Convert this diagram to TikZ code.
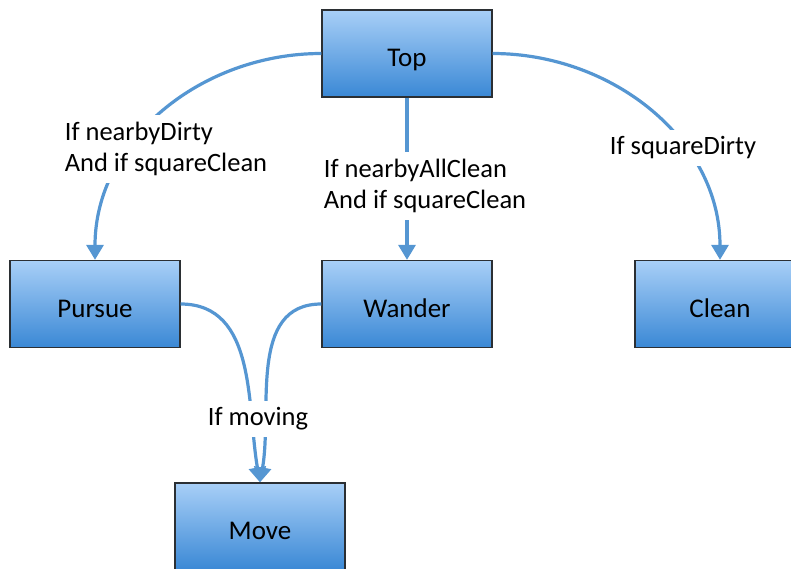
\documentclass[tikz,border=0pt]{standalone}
\usepackage{fontspec}
\setmainfont{Carlito}
\usetikzlibrary{arrows.meta}
\definecolor{linkblue}{HTML}{5596D2}
\definecolor{boxtop}{HTML}{A8CFF7}
\definecolor{boxbot}{HTML}{3A88D5}
\definecolor{boxedge}{HTML}{2B2F33}
\begin{document}
\begin{tikzpicture}[x=1pt,y=-1pt,
  state/.style={draw=boxedge, line width=1.3pt, top color=boxtop, bottom color=boxbot,
    minimum width=170pt, minimum height=87pt, inner sep=0pt,
    text height=26pt, text depth=0pt,
    font=\fontsize{27}{32}\selectfont},
  link/.style={draw=linkblue, line width=3.2pt,
    -{Triangle[length=15pt,width=17pt]}},
  cond/.style={fill=white, align=left, inner sep=7pt,
    font=\fontsize{26.5}{31}\selectfont}
]
\useasboundingbox (0,0) rectangle (791,569);
\clip (0,0) rectangle (791,569);

% states
\node[state] (top)    at (407,53.5) {Top};
\node[state] (pursue) at (95,304)   {Pursue};
\node[state] (wander) at (407,304)  {Wander};
\node[state] (clean)  at (720,304)  {Clean};
\node[state] (move)   at (260,526.5){Move};

% transitions
\draw[link] (top.west) to[out=180,in=90] (pursue.north);
\draw[link] (top.south) -- (wander.north);
\draw[link] (top.east) to[out=0,in=90] (clean.north);
\draw[link] (pursue.east) to[out=0,in=100] (move.north);
\draw[link] (wander.west) to[out=180,in=80] (move.north);

% conditions, laid over the transitions
\node[cond] (c1) at (166,149) {If nearbyDirty\\And if squareClean};
\node[cond] (c2) at (425,186) {If nearbyAllClean\\And if squareClean};
\node[cond] (c3) at (683,148) {If squareDirty};
\node[cond] (c4) at (258,419) {If moving};
\end{tikzpicture}
\end{document}
